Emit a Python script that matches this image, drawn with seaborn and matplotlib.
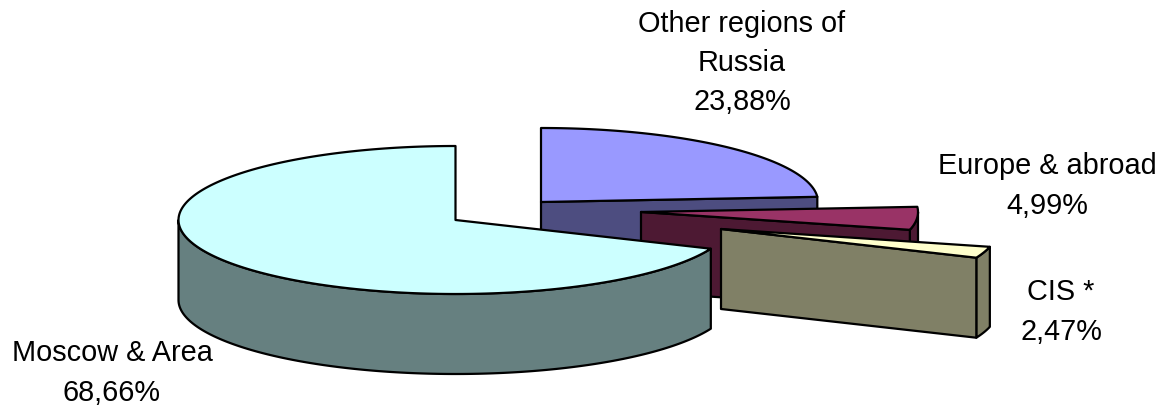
import numpy as np
import pandas as pd
import matplotlib
matplotlib.use("Agg")
import matplotlib.pyplot as plt
import seaborn as sns

labels = ["Other regions of\nRussia", "Europe & abroad", "CIS *", "Moscow & Area"]
values = [23.88, 4.99, 2.47, 68.66]
top_colors = ["#9999FF", "#993366", "#FFFFCC", "#CCFFFF"]
side_colors = ["#4D4D80", "#4D1933", "#808066", "#668080"]
centers_x = [541, 641, 721, 455.5]
centers_y = [202, 212, 229, 220]
draw_order = [0, 1, 3, 2]
label_x = [742, 1047, 1061, 112]
label_y = [63, 186, 312, 373]

RX, RY, DEPTH = 277, 74, 80

sns.set_theme(style="white")
plt.rcParams["font.family"] = ["Liberation Sans", "DejaVu Sans"]

df = pd.DataFrame({"label": labels, "value": values, "cx": centers_x, "cy": centers_y,
                   "top": top_colors, "side": side_colors, "lx": label_x, "ly": label_y})
ends = np.cumsum(df["value"].to_numpy()) / df["value"].sum() * 2 * np.pi
starts = np.concatenate([[0], ends[:-1]])

fig = plt.figure(figsize=(11.64, 4.09), dpi=100)
ax = fig.add_axes([0, 0, 1, 1])
ax.set_xlim(0, 1164)
ax.set_ylim(409, 0)
ax.axis("off")

style = dict(edgecolor="black", linewidth=1.6, joinstyle="round")
for i in draw_order:
    r = df.iloc[i]
    t = np.linspace(starts[i], ends[i], 200)
    ex = r.cx + RX * np.sin(t)
    ey = r.cy - RY * np.cos(t)
    # outer rim: only the part of the arc that faces the viewer
    lo, hi = max(starts[i], np.pi / 2), min(ends[i], 3 * np.pi / 2)
    if hi > lo:
        v = np.linspace(lo, hi, 200)
        vx = r.cx + RX * np.sin(v)
        vy = r.cy - RY * np.cos(v)
        ax.fill(np.r_[vx, vx[::-1]], np.r_[vy, vy[::-1] + DEPTH], facecolor=r.side, **style)
    # cut face at the clockwise end of the wedge
    if i != 3:
        ax.fill([r.cx, ex[-1], ex[-1], r.cx],
                [r.cy, ey[-1], ey[-1] + DEPTH, r.cy + DEPTH], facecolor=r.side, **style)
    # top
    ax.fill(np.r_[r.cx, ex], np.r_[r.cy, ey], facecolor=r.top, **style)

for i in range(len(df)):
    r = df.iloc[i]
    ax.text(r.lx, r.ly, f"{r.label}\n{r.value:.2f}%".replace(".", ","),
            ha="center", va="center", fontsize=20.8, color="black", linespacing=1.52)

fig.savefig("out.png", dpi=100)
